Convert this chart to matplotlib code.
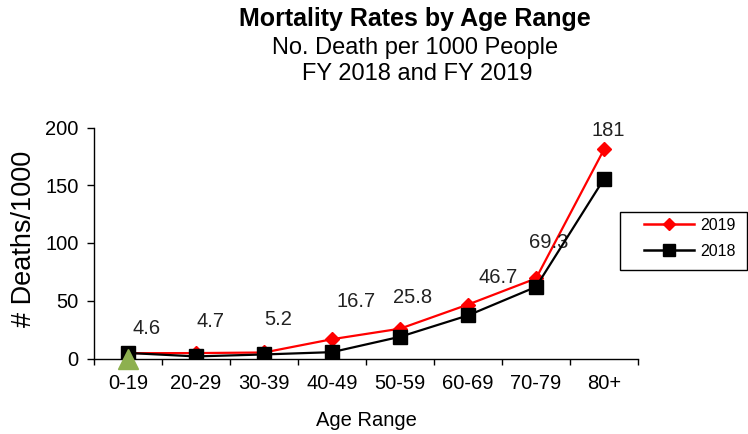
import matplotlib
matplotlib.use("Agg")
import matplotlib.pyplot as plt
from matplotlib.lines import Line2D
from matplotlib.patches import Rectangle

plt.rcParams['font.family'] = ['Liberation Sans', 'DejaVu Sans']

categories = ["0-19", "20-29", "30-39", "40-49", "50-59", "60-69", "70-79", "80+"]
rates_2019 = [4.6, 4.7, 5.2, 16.7, 25.8, 46.7, 69.3, 181]
rates_2018 = [4.8, 1.8, 3.5, 5.5, 18.8, 37.3, 62.0, 155.5]
label_texts = ["4.6", "4.7", "5.2", "16.7", "25.8", "46.7", "69.3", "181"]
extra_point = [0.0]  # green triangle at 0-19
y_ticks = [0, 50, 100, 150, 200]

# label placement (data coords)
label_x = [0.28, 1.21, 2.21, 3.35, 4.18, 5.44, 6.19, 7.06]
label_y = [26, 32, 34, 49, 52.5, 70, 100, 197]

W, H = 748, 434
fig = plt.figure(figsize=(W / 100, H / 100), dpi=100)
ax = fig.add_axes([94 / W, 1 - 358.5 / H, (638 - 94) / W, (358.5 - 127.5) / H])

x = list(range(len(categories)))
ax.plot(x, rates_2019, color='#ff0000', lw=1.6, marker='D', ms=7, mec='#ff0000', mfc='#ff0000', zorder=3)
ax.plot(x, rates_2018, color='black', lw=1.6, marker='s', ms=9.5, mec='black', mfc='black', zorder=4)
ax.plot([0], extra_point, linestyle='none', marker='^', ms=15, color='#8DB04F', zorder=5, clip_on=False)

for lx, ly, t in zip(label_x, label_y, label_texts):
    ax.text(lx, ly, t, ha='center', va='center', fontsize=14.5, color='#222222')

ax.set_xlim(-0.5, len(categories) - 0.5)
ax.set_ylim(0, 200)
ax.set_yticks(y_ticks)
ax.set_xticks(x)
ax.set_xticklabels(categories, fontsize=14.5)
ax.set_xticks([i - 0.5 for i in range(len(categories) + 1)], minor=True)
ax.tick_params(axis='x', which='major', length=0, pad=11)
ax.tick_params(axis='x', which='minor', length=4.5, width=1, color='black')
ax.tick_params(axis='y', labelsize=14.5, length=5, width=1, pad=6)
for s in ['top', 'right']:
    ax.spines[s].set_visible(False)
for s in ['left', 'bottom']:
    ax.spines[s].set_linewidth(1)
    ax.spines[s].set_color('black')

ax.set_xlabel('Age Range', fontsize=14.5)
ax.xaxis.set_label_coords(0.5, (358.5 - 421) / 231)
ax.xaxis.label.set_va('center')
ax.set_ylabel('# Deaths/1000', fontsize=19.5)
ax.yaxis.set_label_coords((24 - 94) / 544, (358.5 - 239) / 231)
ax.yaxis.label.set_va('center')

fig.text(415 / W, 1 - 19 / H, 'Mortality Rates by Age Range', ha='center', va='center', fontsize=18, fontweight='bold')
fig.text(415 / W, 1 - 48 / H, 'No. Death per 1000 People', ha='center', va='center', fontsize=17)
fig.text(417 / W, 1 - 74 / H, 'FY 2018 and FY 2019', ha='center', va='center', fontsize=17)

# legend frame
fig.add_artist(Rectangle((620 / W, 1 - 270 / H), (747 - 620) / W, (270 - 212) / H,
                         transform=fig.transFigure, fill=False, edgecolor='black', lw=1))
handles = [Line2D([], [], color='#ff0000', lw=1.8, marker='D', ms=6),
           Line2D([], [], color='black', lw=1.8, marker='s', ms=8)]
leg = fig.legend(handles, ['2019', '2018'], loc='upper left', bbox_to_anchor=(644 / W, 1 - 218 / H),
                 fontsize=11.5, frameon=False, handlelength=3.1, borderpad=0, labelspacing=0.66,
                 borderaxespad=0, handletextpad=0.4)

fig.savefig('out.png', dpi=100)
